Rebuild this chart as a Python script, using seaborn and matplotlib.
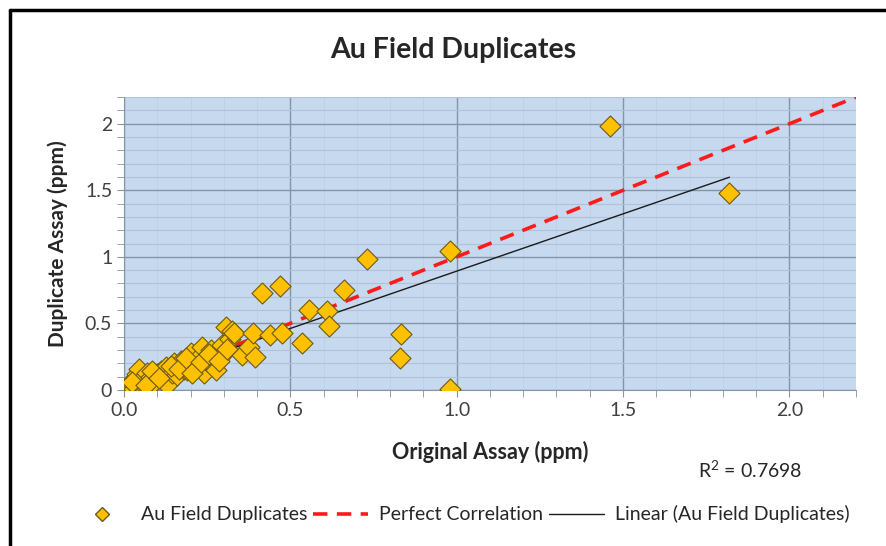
import matplotlib
matplotlib.use("Agg")
import matplotlib.pyplot as plt
import matplotlib.ticker as mticker
from matplotlib.lines import Line2D
import seaborn as sns
import pandas as pd

# original vs duplicate assays (ppm)
original_ppm = [0.00, 0.01, 0.015, 0.02, 0.03, 0.035, 0.04, 0.045, 0.05, 0.055,
                0.06, 0.07, 0.08, 0.09, 0.10, 0.11, 0.12, 0.125, 0.13, 0.145,
                0.15, 0.16, 0.17, 0.18, 0.19, 0.20, 0.21, 0.215, 0.225, 0.235,
                0.24, 0.25, 0.26, 0.27, 0.275, 0.28, 0.295, 0.30, 0.307, 0.32,
                0.325, 0.33, 0.355, 0.377, 0.389, 0.395, 0.416, 0.44, 0.47, 0.476,
                0.535, 0.555, 0.61, 0.615, 0.66, 0.73, 0.83, 0.834, 0.98, 0.98,
                1.46, 1.82,
                0.025, 0.065, 0.085, 0.105, 0.14, 0.165, 0.185, 0.205, 0.23, 0.255,
                0.285, 0.31]
duplicate_ppm = [0.00, 0.03, 0.02, 0.05, 0.01, 0.08, 0.12, 0.16, 0.04, 0.05,
                 0.10, 0.13, 0.10, 0.06, 0.12, 0.14, 0.08, 0.17, 0.04, 0.13,
                 0.20, 0.11, 0.22, 0.16, 0.15, 0.28, 0.20, 0.17, 0.25, 0.32,
                 0.13, 0.22, 0.30, 0.18, 0.15, 0.26, 0.34, 0.28, 0.47, 0.38,
                 0.44, 0.43, 0.26, 0.32, 0.43, 0.25, 0.73, 0.41, 0.78, 0.43,
                 0.35, 0.60, 0.59, 0.48, 0.75, 0.98, 0.24, 0.42, 1.04, 0.01,
                 1.98, 1.48,
                 0.06, 0.04, 0.14, 0.09, 0.18, 0.16, 0.24, 0.13, 0.21, 0.27,
                 0.22, 0.31]

perfect_x = [0.0, 2.2]
perfect_y = [0.0, 2.2]

x_ticks = [0.0, 0.5, 1.0, 1.5, 2.0]
x_tick_labels = ["0.0", "0.5", "1.0", "1.5", "2.0"]
y_ticks = [0, 0.5, 1, 1.5, 2]
y_tick_labels = ["0", "0.5", "1", "1.5", "2"]
r2_text = "R$^2$ = 0.7698"

df = pd.DataFrame({"original": original_ppm, "duplicate": duplicate_ppm})

sns.set_style("white")
plt.rcParams["font.family"] = ["Lato", "DejaVu Sans"]
plt.rcParams["mathtext.default"] = "regular"

fig = plt.figure(figsize=(8.86, 5.46), dpi=100)
ax = fig.add_axes([0.14, 0.286, 0.826, 0.536])
ax.set_facecolor("#c6d9ef")

# grid
ax.set_xlim(0, 2.2)
ax.set_ylim(0, 2.2)
ax.xaxis.set_major_locator(mticker.FixedLocator(x_ticks))
ax.yaxis.set_major_locator(mticker.FixedLocator(y_ticks))
ax.xaxis.set_minor_locator(mticker.MultipleLocator(0.1))
ax.yaxis.set_minor_locator(mticker.MultipleLocator(0.1))
ax.grid(which="major", color="#8595a6", linewidth=1.0)
ax.grid(which="minor", axis="y", color="#afc2d7", linewidth=0.8)
ax.grid(which="minor", axis="x", color="#bdd0e5", linewidth=0.6)
ax.set_axisbelow(True)

ax.plot(perfect_x, perfect_y, color="#ff1a1a", linestyle=(0, (4, 2.6)),
        linewidth=2.6, zorder=2)
sns.regplot(data=df, x="original", y="duplicate", scatter=False, ci=None,
            truncate=True, ax=ax, color="#1a1a1a", line_kws={"linewidth": 1.0, "zorder": 3})
sns.scatterplot(data=df, x="original", y="duplicate", ax=ax, marker="D", s=115,
                color="#ffc000", edgecolor="#6b5a1a", linewidth=0.8, zorder=4)

ax.set_xticks(x_ticks)
ax.set_xticklabels(x_tick_labels)
ax.set_yticks(y_ticks)
ax.set_yticklabels(y_tick_labels)
ax.tick_params(which="both", direction="out", color="#8595a6", length=5,
               labelsize=14, labelcolor="#404040")
ax.tick_params(axis="both", which="both", bottom=True, left=True)
for s in ["top", "right"]:
    ax.spines[s].set_visible(False)
for s in ["left", "bottom"]:
    ax.spines[s].set_color("#8595a6")

ax.set_xlabel("Original Assay (ppm)", fontsize=15.5, fontweight="bold", labelpad=16)
ax.set_ylabel("Duplicate Assay (ppm)", fontsize=15, fontweight="bold", labelpad=12)
fig.text(0.512, 0.908, "Au Field Duplicates", ha="center", va="center",
         fontsize=20.5, fontweight="bold")
fig.text(0.847, 0.138, r2_text, ha="center", va="center", fontsize=14)

handles = [
    Line2D([], [], marker="D", linestyle="none", markersize=7,
           markerfacecolor="#ffc000", markeredgecolor="#6b5a1a"),
    Line2D([], [], color="#ff1a1a", linestyle=(0, (4, 2.6)), linewidth=2.6),
    Line2D([], [], color="#1a1a1a", linewidth=1.0),
]
fig.legend(handles, ["Au Field Duplicates", "Perfect Correlation",
                     "Linear (Au Field Duplicates)"],
           loc="center", bbox_to_anchor=(0.522, 0.058), ncol=3, frameon=False,
           fontsize=14, handlelength=2.8, columnspacing=0.3, handletextpad=0.6)

# outer chart frame (top and left edges visible in the reference)
fig.add_artist(Line2D([0.011, 1.0], [0.981, 0.981], color="black", linewidth=2.5))
fig.add_artist(Line2D([0.011, 0.011], [0.0, 0.981], color="black", linewidth=2.5))

fig.savefig("out.png", dpi=100)
